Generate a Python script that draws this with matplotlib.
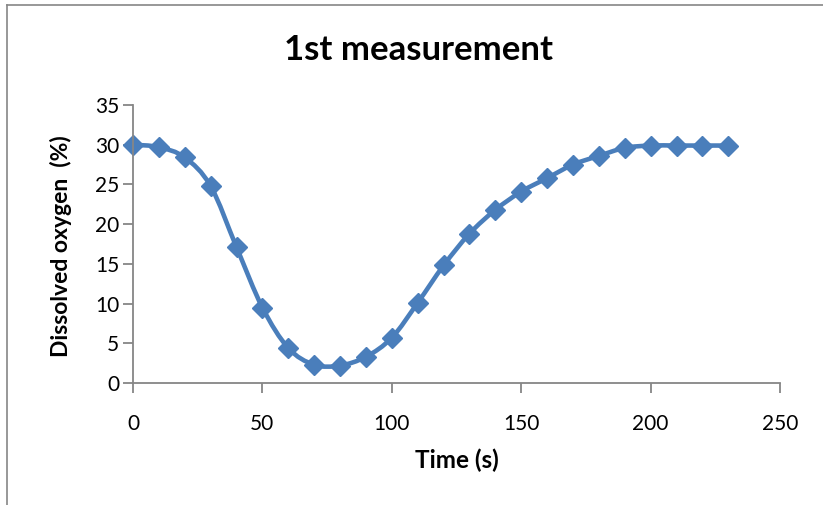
import matplotlib.pyplot as plt
import numpy as np
from matplotlib.path import Path
from matplotlib.patches import PathPatch
from matplotlib.lines import Line2D

# time (s) and dissolved oxygen (%)
time_s = [0, 10, 20, 30, 40, 50, 60, 70, 80, 90, 100, 110, 120,
          130, 140, 150, 160, 170, 180, 190, 200, 210, 220, 230]
oxygen = [30.0, 29.7, 28.4, 24.8, 17.1, 9.5, 4.4, 2.3, 2.2, 3.3, 5.7, 10.1, 14.8,
          18.8, 21.8, 24.1, 25.8, 27.5, 28.6, 29.6, 29.9, 29.9, 29.9, 29.9]
xticks = [0, 50, 100, 150, 200, 250]
yticks = [0, 5, 10, 15, 20, 25, 30, 35]

color = "#4A7EBB"
spine_c = "#868686"
plt.rcParams['font.family'] = ['Lato', 'DejaVu Sans']

fig = plt.figure(figsize=(8.23, 5.05), dpi=100)
ax = fig.add_axes([0.1616, 0.2416, 0.7862, 0.5504])

# smoothed line like excel (bezier through the points)
x = np.array(time_s, float)
y = np.array(oxygen, float)
verts = [(x[0], y[0])]
codes = [Path.MOVETO]
n = len(x)
for i in range(n - 1):
    p0 = np.array([x[max(i - 1, 0)], y[max(i - 1, 0)]])
    p1 = np.array([x[i], y[i]])
    p2 = np.array([x[i + 1], y[i + 1]])
    p3 = np.array([x[min(i + 2, n - 1)], y[min(i + 2, n - 1)]])
    c1 = p1 + (p2 - p0) / 6
    c2 = p2 - (p3 - p1) / 6
    verts += [tuple(c1), tuple(c2), tuple(p2)]
    codes += [Path.CURVE4] * 3
ax.add_patch(PathPatch(Path(verts, codes), fill=False, edgecolor=color, lw=3.3,
                       capstyle='round', joinstyle='round'))
ax.plot(time_s, oxygen, linestyle='none', marker='D', ms=10.5, color=color, clip_on=False)

ax.set_xlim(0, 250)
ax.set_ylim(0, 35)
ax.set_xticks(xticks)
ax.set_yticks(yticks)
for s in ['top', 'right']:
    ax.spines[s].set_visible(False)
for s in ['left', 'bottom']:
    ax.spines[s].set_color(spine_c)
    ax.spines[s].set_linewidth(1.3)
ax.tick_params(direction='out', length=7, width=1.3, color=spine_c, labelsize=15)
ax.tick_params(axis='y', pad=3)
ax.tick_params(axis='x', pad=15)

fig.text(457 / 823, 1 - 460 / 505, "Time (s)", ha='center', va='center',
         fontsize=17.5, fontweight='bold')
fig.text(61 / 823, 1 - 246 / 505, "Dissolved oxygen  (%)", ha='center', va='center',
         rotation=90, fontsize=16.5, fontweight='bold')
fig.text(418 / 823, 1 - 50 / 505, "1st measurement", ha='center', va='center',
         fontsize=25, fontweight='bold')

# chart border (only top and left visible in the crop)
fig.add_artist(Line2D([0.0085, 0.0085], [0, 0.99], color=spine_c, lw=1.2))
fig.add_artist(Line2D([0.0085, 1], [0.99, 0.99], color=spine_c, lw=1.2))

fig.savefig("out.png", dpi=100)
